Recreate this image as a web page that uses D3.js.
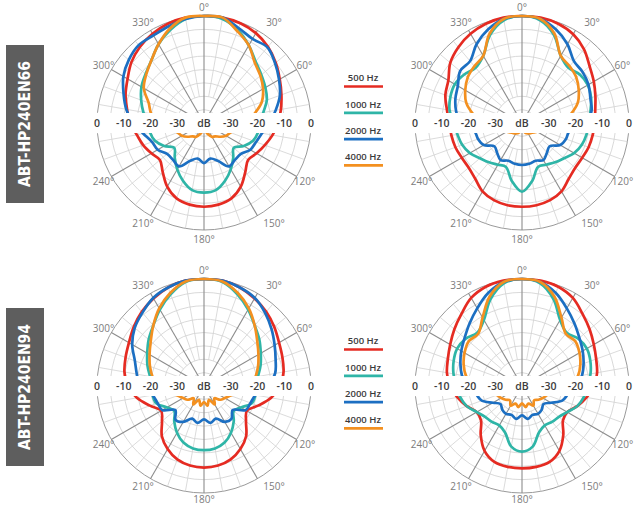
<!DOCTYPE html>
<html><head><meta charset="utf-8">
<script src="https://cdn.jsdelivr.net/npm/d3@7"></script>
<style>body{margin:0;background:#fff}svg{display:block}</style>
</head><body><svg id="c" width="640" height="506"></svg>
<script>
const angles = d3.range(0, 360, 10);
const seriesNames = ["500 Hz", "1000 Hz", "2000 Hz", "4000 Hz"];
const seriesColors = ["#e52b22", "#2fb5a7", "#1c6fc2", "#f39020"];
const models = ["ABT-HP240EN66", "ABT-HP240EN94"];
const angleLabels = [0, 30, 60, 120, 150, 180, 210, 240, 300, 330];
const dbTicks = [0, -10, -20, -30];
const dbRings = [0, -5, -10, -15, -20, -25, -30, -35];

// EN66 left plot
const en66L_500  = [0,0,-0.3,-1.2,-2.8,-5,-7.3,-9.2,-10.8,-12.3,-14,-15.8,-17.3,-18.5,-16,-12.5,-10,-9,-8.7,-9,-10,-12.5,-16,-18.5,-17.3,-15.8,-14.5,-12.3,-10.8,-8.8,-7,-4.6,-2.8,-1.5,-0.5,0];
const en66L_1000 = [0,-0.5,-3,-6.5,-10,-12,-13.5,-15,-17.5,-19,-19.5,-20.5,-22.8,-25.5,-23,-20,-17,-14.5,-14,-14.5,-17,-20,-23,-25.5,-22.8,-20.5,-19.5,-19,-17,-15,-13,-11.5,-9.4,-6,-3,-0.5];
const en66L_2000 = [0,0,-2.2,-3.7,-3.1,-5.3,-7.6,-9.8,-12.8,-15.5,-18,-19.3,-20,-22,-22,-21.3,-25,-26.5,-25,-26.5,-25,-21.3,-22,-22,-20,-19.3,-17,-13.5,-10.5,-8,-5.2,-3.3,-2,-2.2,-1.5,-0.5];
const en66L_4000 = [0,0,-3.5,-6.5,-10.5,-12.5,-14.5,-17,-21,-24.5,-27.5,-29.5,-30.5,-32,-33.5,-34,-35.5,-37,-38,-37,-35.5,-34,-33.5,-32,-30.5,-29.5,-27.5,-24,-20,-18,-14,-11.8,-9.4,-6,-2.5,0];
// EN66 right plot
const en66R_500  = [0,0,-0.5,-1.7,-4,-7,-9,-10.8,-12.2,-12.8,-13.2,-13.5,-14,-14,-12.8,-10.5,-9.3,-8.8,-8.7,-8.8,-9.3,-10.5,-12.8,-14,-14,-13.5,-13.2,-12.8,-11.5,-9.5,-8.2,-5,-3,-1.5,-0.5,0];
const en66R_1000 = [0,-1,-5,-11,-13,-11.8,-11.6,-12.5,-14,-15,-15.5,-16.2,-17.5,-19.5,-20.8,-22,-22.5,-18,-14.3,-18,-22.5,-22,-20.8,-19.5,-17.5,-16.2,-15.5,-14.5,-12.5,-11.5,-11,-11.8,-13,-11,-5,-1];
const en66R_2000 = [0,-0.5,-2.8,-6,-9.8,-10.4,-11.3,-12.8,-13.6,-16,-22,-22.5,-23.5,-26.5,-25.5,-24,-25,-24.5,-24.3,-24.5,-25,-24,-25.5,-26.5,-23.5,-22.5,-22,-17,-15,-13.5,-12.3,-9.8,-9.8,-6,-2.8,-0.5];
const en66R_4000 = [0,-0.5,-4.5,-11,-12.3,-13.5,-15.5,-17.8,-21.5,-25,-29,-32,-33.5,-34.5,-35,-35.5,-36,-37,-38,-37,-36,-35.5,-35,-34.5,-33.5,-32,-29,-25,-21.5,-17.8,-15.5,-13.5,-12.3,-11,-4.5,-0.5];
// EN94 left plot
const en94L_500  = [0,0,-0.8,-2.2,-3.8,-5.7,-7.6,-8.8,-9.8,-11.5,-14.5,-18.5,-21.5,-19.5,-15.5,-12.8,-10.8,-9.8,-9.5,-9.8,-10.8,-12.8,-15.5,-19.5,-21.5,-18.5,-14.5,-11.5,-9.8,-8.8,-7.6,-5.7,-3.8,-2.2,-0.8,0];
const en94L_1000 = [0,-0.5,-3.5,-7,-10.5,-13,-15.5,-17.5,-19.5,-20.5,-20.5,-21,-24,-25.5,-22.7,-19.8,-17.5,-16.3,-16,-16.3,-17.5,-19.8,-22.7,-25.5,-24,-21,-20.5,-20.5,-19.5,-17.5,-15.5,-13,-10.5,-7,-3.5,-0.5];
const en94L_2000 = [0,0,-0.8,-2,-4.4,-7,-9.5,-11.5,-13,-16,-20.5,-21.5,-22,-26,-24,-24.5,-27,-26,-27.5,-26,-27,-24.5,-23.5,-26,-22,-21.5,-20.5,-16,-14.5,-12.5,-9,-6.2,-4.2,-2,-0.8,0];
const en94L_4000 = [0,-0.3,-3,-6.5,-10.5,-14,-16.5,-18.5,-20.5,-23,-27,-29.5,-31,-32,-34,-32,-34.5,-32.5,-34,-32.5,-34.5,-32,-34,-32,-31,-29.5,-27,-23,-20.5,-18.5,-16.5,-14,-10.5,-6.5,-3,-0.3];
// EN94 right plot
const en94R_500  = [0,0,-0.5,-2,-4.8,-7,-9,-10.5,-11.5,-13,-15.5,-18,-20.5,-20,-16,-12,-9.8,-9.3,-9.2,-9.3,-9.8,-12,-16,-20,-20.5,-18,-15.5,-13,-11.5,-10.5,-9,-7,-4.8,-2,-0.5,0];
const en94R_1000 = [0,-1,-5.5,-11.5,-14,-12.5,-12,-12.8,-14,-15.5,-16.5,-18,-20.5,-22,-22.5,-23,-21.5,-17,-15.5,-17,-21.5,-23,-22.5,-22,-20.5,-18,-16.5,-15.5,-14,-12.8,-12,-12.5,-14,-11.5,-5.5,-1];
const en94R_2000 = [0,-0.5,-3,-6.5,-9.5,-12,-13.8,-15.5,-17.2,-19.5,-22.5,-24,-27.5,-29.5,-28.5,-28,-28.5,-27.5,-29,-27.5,-28.5,-28,-28.5,-29.5,-27.5,-24,-22.5,-19.5,-17.2,-15.5,-13.8,-12,-9.5,-6.5,-3,-0.5];
const en94R_4000 = [0,-0.5,-4.5,-10.5,-14.5,-14,-15.2,-16.8,-18.8,-22,-27,-30,-31,-32,-33,-31.5,-33,-32,-33.5,-32,-33,-31.5,-33,-32,-31,-30,-27,-22,-18.8,-16.8,-15.2,-14,-14.5,-10.5,-4.5,-0.5];

const plots = [
  {cx: 204, cy: 123, series: [en66L_500, en66L_1000, en66L_2000, en66L_4000]},
  {cx: 522, cy: 123, series: [en66R_500, en66R_1000, en66R_2000, en66R_4000]},
  {cx: 204, cy: 386, series: [en94L_500, en94L_1000, en94L_2000, en94L_4000]},
  {cx: 522, cy: 386, series: [en94R_500, en94R_1000, en94R_2000, en94R_4000]}
];

const svg = d3.select("#c");
svg.append("rect").attr("width", 640).attr("height", 506).attr("fill", "#fff");

const R = 107;
const r = d3.scaleLinear().domain([-40, 0]).range([0, R]);
const toRad = d => d * Math.PI / 180;
const line = d3.lineRadial()
  .angle(d => toRad(d[0]))
  .radius(d => r(d[1]))
  .curve(d3.curveCatmullRomClosed.alpha(0.5));

const fontSans = "'Open Sans','Noto Sans','DejaVu Sans',sans-serif";

plots.forEach(p => {
  const g = svg.append("g").attr("transform", `translate(${p.cx},${p.cy})`);
  g.selectAll("circle.ring").data(dbRings).join("circle")
    .attr("r", d => r(d)).attr("fill", "none")
    .attr("stroke", d => d === 0 ? "#9a9a9a" : "#cfcfcf")
    .attr("stroke-width", d => d === 0 ? 1 : 0.8);
  g.selectAll("line.spoke").data(angles).join("line")
    .attr("x1", d => (d % 30 === 0 ? 0 : r(-30)) * Math.sin(toRad(d)))
    .attr("y1", d => -(d % 30 === 0 ? 0 : r(-30)) * Math.cos(toRad(d)))
    .attr("x2", d => R * Math.sin(toRad(d)))
    .attr("y2", d => -R * Math.cos(toRad(d)))
    .attr("stroke", d => d % 30 === 0 ? "#8c8c8c" : "#d2d2d2")
    .attr("stroke-width", d => d % 30 === 0 ? 1.1 : 0.8);
  p.series.forEach((vals, i) => {
    g.append("path")
      .datum(angles.map((a, k) => [a, vals[k]]))
      .attr("d", line)
      .attr("fill", "none")
      .attr("stroke", seriesColors[i])
      .attr("stroke-width", 2.7)
      .attr("stroke-linejoin", "round");
  });
  g.append("rect").attr("x", -R - 14).attr("y", -10).attr("width", 2 * R + 28).attr("height", 20).attr("fill", "#fff");
  const tickLabels = [];
  dbTicks.forEach(t => { tickLabels.push({x: -r(t), t: String(t)}); tickLabels.push({x: r(t), t: String(t)}); });
  tickLabels.push({x: 0, t: "dB"});
  g.selectAll("text.db").data(tickLabels).join("text")
    .attr("x", d => d.x).attr("y", 0).attr("dy", "0.36em")
    .attr("text-anchor", "middle")
    .attr("font-family", fontSans).attr("font-size", 10.5).attr("font-weight", 600)
    .attr("fill", "#3c3c3c").text(d => d.t);
  const maxBottom = 506 - 7 - p.cy;
  const lr = d => {
    const base = R + 9;
    if (d === 180) return Math.min(base, maxBottom);
    return base;
  };
  g.selectAll("text.ang").data(angleLabels).join("text")
    .attr("x", d => lr(d) * Math.sin(toRad(d)) + ((d === 30 || d === 150) ? 12 : (d === 330 || d === 210) ? -3 : 0))
    .attr("y", d => -lr(d) * Math.cos(toRad(d)))
    .attr("dy", "0.36em").attr("text-anchor", "middle")
    .attr("font-family", fontSans).attr("font-size", 10)
    .attr("fill", "#7c7c7c").text(d => d + "°");
});

const boxes = [{y: 45}, {y: 308}];
models.forEach((m, i) => {
  const y0 = boxes[i].y;
  svg.append("rect").attr("x", 6).attr("y", y0).attr("width", 38).attr("height", 158).attr("fill", "#5e5e5e");
  svg.append("text")
    .attr("transform", `translate(25,${y0 + 79}) rotate(-90)`)
    .attr("text-anchor", "middle").attr("dy", "0.36em")
    .attr("font-family", "'DejaVu Sans Condensed','DejaVu Sans',sans-serif")
    .attr("font-weight", "bold").attr("font-size", 15)
    .attr("textLength", 126).attr("lengthAdjust", "spacingAndGlyphs")
    .attr("fill", "#fff").text(m);
});

const legendTops = [78, 341];
legendTops.forEach(ty => {
  seriesNames.forEach((s, i) => {
    const y = ty + i * 26.3;
    svg.append("text").attr("x", 363).attr("y", y).attr("dy", "0.36em")
      .attr("text-anchor", "middle").attr("font-family", fontSans)
      .attr("font-size", 9.5).attr("font-weight", 600).attr("fill", "#3a3a3a").text(s);
    svg.append("line").attr("x1", 344).attr("x2", 383).attr("y1", y + 8.5).attr("y2", y + 8.5)
      .attr("stroke", seriesColors[i]).attr("stroke-width", 2.7);
  });
});
</script></body></html>
